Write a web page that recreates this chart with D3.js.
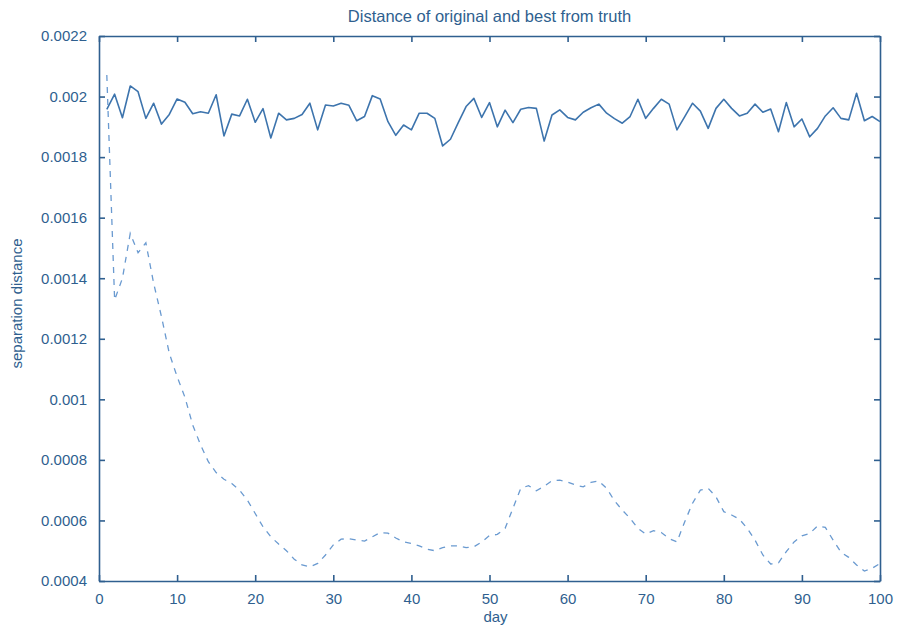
<!DOCTYPE html>
<html>
<head>
<meta charset="utf-8">
<script src="https://cdn.jsdelivr.net/npm/d3@7"></script>
<style>
  html, body { margin: 0; padding: 0; background: #ffffff; }
  svg text { font-family: "Liberation Sans", Arial, sans-serif; }
</style>
</head>
<body>
<svg id="chart" width="897" height="630"></svg>
<script>
const title = "Distance of original and best from truth";
const xLabel = "day";
const yLabel = "separation distance";

const days = d3.range(1, 101);

// solid line: original
const original = [
  0.001958, 0.002008, 0.001930, 0.002035, 0.002016, 0.001928, 0.001978, 0.001909, 0.001941, 0.001992,
  0.001981, 0.001943, 0.001950, 0.001945, 0.002006, 0.001870, 0.001942, 0.001936, 0.001991, 0.001915,
  0.001960, 0.001863, 0.001945, 0.001923, 0.001928, 0.001941, 0.001978, 0.001890, 0.001972, 0.001969,
  0.001978, 0.001971, 0.001920, 0.001934, 0.002003, 0.001992, 0.001917, 0.001872, 0.001906, 0.001890,
  0.001945, 0.001945, 0.001928, 0.001837, 0.001859, 0.001914, 0.001967, 0.001994, 0.001931, 0.001980,
  0.001900, 0.001955, 0.001914, 0.001958, 0.001964, 0.001961, 0.001853, 0.001939, 0.001956, 0.001931,
  0.001923, 0.001948, 0.001963, 0.001975, 0.001945, 0.001927, 0.001912, 0.001934, 0.001991, 0.001928,
  0.001961, 0.001991, 0.001975, 0.001890, 0.001934, 0.001978, 0.001952, 0.001895, 0.001961, 0.001991,
  0.001961, 0.001936, 0.001945, 0.001975, 0.001948, 0.001959, 0.001884, 0.001980, 0.001900, 0.001926,
  0.001867, 0.001895, 0.001936, 0.001963, 0.001928, 0.001923, 0.002011, 0.001920, 0.001934, 0.001917
];

// dashed line: best
const best = [
  0.002071, 0.001328, 0.001400, 0.001548, 0.001484, 0.001517, 0.001383, 0.001273, 0.001152, 0.001075,
  0.001007, 0.000915, 0.000850, 0.000794, 0.000758, 0.000736, 0.000722, 0.000700, 0.000667, 0.000623,
  0.000579, 0.000546, 0.000522, 0.000500, 0.000472, 0.000453, 0.000447, 0.000458, 0.000486, 0.000519,
  0.000538, 0.000540, 0.000535, 0.000532, 0.000546, 0.000560, 0.000558, 0.000542, 0.000529, 0.000524,
  0.000516, 0.000505, 0.000500, 0.000510, 0.000516, 0.000516, 0.000510, 0.000513, 0.000529, 0.000550,
  0.000554, 0.000574, 0.000640, 0.000706, 0.000715, 0.000698, 0.000713, 0.000731, 0.000733, 0.000727,
  0.000717, 0.000711, 0.000726, 0.000730, 0.000706, 0.000665, 0.000634, 0.000607, 0.000574, 0.000555,
  0.000566, 0.000560, 0.000540, 0.000529, 0.000596, 0.000657, 0.000700, 0.000706, 0.000678, 0.000629,
  0.000618, 0.000604, 0.000574, 0.000535, 0.000486, 0.000456, 0.000460, 0.000497, 0.000529, 0.000549,
  0.000557, 0.000582, 0.000577, 0.000535, 0.000495, 0.000478, 0.000453, 0.000433, 0.000442, 0.000458
];

const xTicks = [0, 10, 20, 30, 40, 50, 60, 70, 80, 90, 100];
const yTicks = [0.0004, 0.0006, 0.0008, 0.001, 0.0012, 0.0014, 0.0016, 0.0018, 0.002, 0.0022];
const yTickLabels = ["0.0004", "0.0006", "0.0008", "0.001", "0.0012", "0.0014", "0.0016", "0.0018", "0.002", "0.0022"];

const margin = { left: 99, right: 17, top: 36, bottom: 49 };
const W = 897, H = 630;
const iw = W - margin.left - margin.right;
const ih = H - margin.top - margin.bottom;

const axisColor = "#2f5f8f";
const solidColor = "#3d74ad";
const dashColor = "#6a9ad0";

const svg = d3.select("#chart");
const g = svg.append("g").attr("transform", `translate(${margin.left},${margin.top})`);

const x = d3.scaleLinear().domain([0, 100]).range([0, iw]);
const y = d3.scaleLinear().domain([0.0004, 0.0022]).range([ih, 0]);

const tickLen = 6;
const fmtY = (d) => yTickLabels[yTicks.indexOf(d)];

function styleAxis(sel) {
  sel.selectAll("path").attr("stroke", axisColor).attr("stroke-width", 1.6);
  sel.selectAll("line").attr("stroke", axisColor).attr("stroke-width", 1.6);
  sel.selectAll("text").attr("fill", axisColor).style("font-size", "15px");
}

const axBottom = g.append("g").attr("transform", `translate(0,${ih})`)
  .call(d3.axisBottom(x).tickValues(xTicks).tickSizeInner(-tickLen).tickSizeOuter(0).tickPadding(12).tickFormat(d3.format("d")));
styleAxis(axBottom);

const axTop = g.append("g")
  .call(d3.axisTop(x).tickValues(xTicks).tickSizeInner(-tickLen).tickSizeOuter(0).tickFormat(""));
styleAxis(axTop);

const axLeft = g.append("g")
  .call(d3.axisLeft(y).tickValues(yTicks).tickSizeInner(-tickLen).tickSizeOuter(0).tickPadding(12).tickFormat(fmtY));
styleAxis(axLeft);

const axRight = g.append("g").attr("transform", `translate(${iw},0)`)
  .call(d3.axisRight(y).tickValues(yTicks).tickSizeInner(-tickLen).tickSizeOuter(0).tickFormat(""));
styleAxis(axRight);

const line = d3.line().x((d, i) => x(days[i])).y(d => y(d));

g.append("path").datum(best)
  .attr("fill", "none").attr("stroke", dashColor).attr("stroke-width", 1.3)
  .attr("stroke-dasharray", "6,6")
  .attr("d", line);

g.append("path").datum(original)
  .attr("fill", "none").attr("stroke", solidColor).attr("stroke-width", 1.6)
  .attr("stroke-linejoin", "round")
  .attr("d", line);

svg.append("text").attr("x", margin.left + iw / 2).attr("y", 22)
  .attr("text-anchor", "middle").attr("fill", axisColor).style("font-size", "16.5px").text(title);

svg.append("text").attr("x", margin.left + iw / 2 + 6).attr("y", 622)
  .attr("text-anchor", "middle").attr("fill", axisColor).style("font-size", "15px").text(xLabel);

svg.append("text").attr("transform", `translate(22,${margin.top + ih / 2 - 5}) rotate(-90)`)
  .attr("text-anchor", "middle").attr("fill", axisColor).style("font-size", "15px").text(yLabel);
</script>
</body>
</html>
